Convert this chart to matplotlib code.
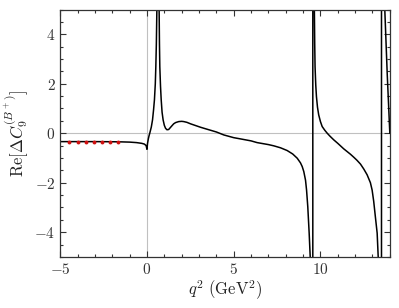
import matplotlib
matplotlib.use("Agg")
import matplotlib.pyplot as plt
from matplotlib.ticker import MultipleLocator

plt.rcParams['font.family'] = 'serif'
plt.rcParams['font.serif'] = ['cmr10']
plt.rcParams['mathtext.fontset'] = 'cm'
plt.rcParams['axes.formatter.use_mathtext'] = True

# Re[Delta C9] curve (q^2 in GeV^2)
q2 = [-5.0, -4.0, -3.0, -2.0, -1.5, -1.0, -0.6, -0.3, -0.15, -0.05, 0.0,
      0.03, 0.08, 0.12, 0.16, 0.25, 0.32, 0.38, 0.43, 0.48, 0.51, 0.54, 0.57,
      0.60, 0.635, 0.67, 0.70, 0.72, 0.74, 0.78, 0.82, 0.87, 0.93, 1.0,
      1.07, 1.15, 1.25, 1.35, 1.45, 1.54, 1.65, 1.83, 2.0, 2.12, 2.3,
      2.51, 2.8, 3.09, 3.47, 4.0, 4.43, 5.0, 5.39, 6.0, 6.35, 7.0, 7.31,
      7.7, 8.08, 8.4, 8.66, 8.85, 8.95, 9.04, 9.14, 9.2, 9.27, 9.35, 9.41,
      9.48, 9.555, 9.565, 9.62, 9.65, 9.67, 9.69, 9.73, 9.77, 9.83, 9.9,
      10.0, 10.1, 10.25, 10.39, 10.55, 10.77, 11.0, 11.34, 11.73, 11.92,
      12.1, 12.31, 12.5, 12.69, 12.88, 12.98, 13.07, 13.17, 13.27, 13.33,
      13.42, 13.515, 13.525, 13.62, 13.71, 13.85, 14.0]
re_dc9 = [-0.34, -0.34, -0.34, -0.345, -0.35, -0.36, -0.38, -0.41, -0.44,
          -0.5, -0.65, -0.42, -0.22, -0.1, 0.0, 0.25, 0.54, 0.95, 1.35,
          2.0, 2.69, 3.6, 5.0, 6.5, 7.5, 6.5, 5.0, 3.6, 2.69, 1.9, 1.35,
          0.85, 0.54, 0.32, 0.2, 0.14, 0.15, 0.23, 0.31, 0.38, 0.43, 0.47,
          0.48, 0.47, 0.44, 0.38, 0.31, 0.24, 0.16, 0.05, -0.07, -0.18,
          -0.23, -0.31, -0.38, -0.46, -0.51, -0.59, -0.7, -0.84, -1.01,
          -1.2, -1.35, -1.55, -1.9, -2.3, -2.97, -4.04, -5.0, -12.0,
          -300.0, 300.0, 12.0, 5.0, 3.6, 2.69, 1.95, 1.48, 1.05, 0.74,
          0.47, 0.27, 0.12, 0.0, -0.12, -0.27, -0.41, -0.63, -0.85, -0.97,
          -1.09, -1.25, -1.45, -1.68, -2.0, -2.3, -2.75, -3.4, -4.04, -5.0,
          -12.0, -300.0, 300.0, 12.0, 5.0, 2.4, 0.0]

# red data points on the spacelike side
pts_q2 = [-4.47, -4.0, -3.53, -3.07, -2.61, -2.15, -1.68]
pts_val = [-0.34, -0.34, -0.34, -0.34, -0.34, -0.34, -0.34]

fig = plt.figure(figsize=(3.99, 3.08), dpi=100)
ax = fig.add_axes([0.151, 0.166, 0.826, 0.803])

ax.axhline(0, color='#c0c0c0', lw=0.8, zorder=1)
ax.axvline(0, color='#c0c0c0', lw=0.8, zorder=1)
ax.plot(q2, re_dc9, color='black', lw=1.1, zorder=2)
ax.plot(pts_q2, pts_val, 'o', color='#d01010', ms=2.8, mew=0, zorder=3)

ax.set_xlim(-5, 14)
ax.set_ylim(-5, 5)
ax.xaxis.set_major_locator(MultipleLocator(5))
ax.xaxis.set_minor_locator(MultipleLocator(1))
ax.yaxis.set_major_locator(MultipleLocator(2))
ax.yaxis.set_minor_locator(MultipleLocator(0.5))
ax.tick_params(which='both', direction='in', top=True, right=True,
               labelsize=11, width=0.8, colors='#333333', labelcolor='#333333')
ax.tick_params(which='major', length=4)
ax.tick_params(which='minor', length=2.2)
for s in ax.spines.values():
    s.set_linewidth(0.9)
    s.set_color('#333333')

ax.set_xlabel(r'$q^2\ (\mathrm{GeV}^2)$', fontsize=12, color='#222222',
              labelpad=1)
ax.set_ylabel(r'$\mathrm{Re}[\Delta C_9^{(B^+)}]$', fontsize=12,
              color='#222222', labelpad=2)

fig.savefig('out.png', dpi=100)
